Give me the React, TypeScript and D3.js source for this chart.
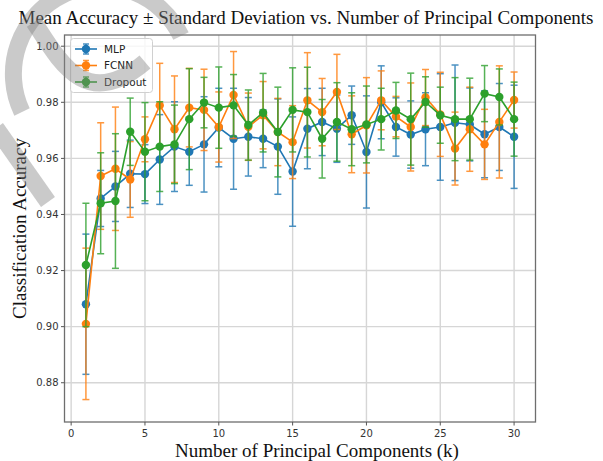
import React from "react";
import * as d3 from "d3";

const W = 603;
const H = 461;
const plot = { left: 64.5, right: 535.5, top: 35, bottom: 422 };

const components = [1, 2, 3, 4, 5, 6, 7, 8, 9, 10, 11, 12, 13, 14, 15, 16, 17, 18, 19, 20, 21, 22, 23, 24, 25, 26, 27, 28, 29, 30];

const mlpMean = [0.908, 0.9457, 0.95, 0.9545, 0.9544, 0.9596, 0.9642, 0.9624, 0.965, 0.971, 0.967, 0.9677, 0.967, 0.9642, 0.9553, 0.9706, 0.973, 0.9706, 0.9754, 0.9623, 0.98, 0.9712, 0.9685, 0.9704, 0.9712, 0.9727, 0.9721, 0.9686, 0.9712, 0.9677];
const mlpStd = [0.025, 0.01, 0.0125, 0.012, 0.0105, 0.016, 0.016, 0.012, 0.017, 0.014, 0.018, 0.014, 0.0103, 0.017, 0.0195, 0.0143, 0.012, 0.012, 0.0104, 0.02, 0.013, 0.0104, 0.012, 0.013, 0.019, 0.0206, 0.013, 0.0155, 0.0155, 0.0184];

const fcnnMean = [0.901, 0.9537, 0.9563, 0.9525, 0.9668, 0.9789, 0.9704, 0.9781, 0.9773, 0.9712, 0.9826, 0.9713, 0.9754, 0.9694, 0.9658, 0.9807, 0.9765, 0.9837, 0.9686, 0.9718, 0.9807, 0.9749, 0.9712, 0.9817, 0.9757, 0.9635, 0.9704, 0.965, 0.973, 0.9808];
const fcnnStd = [0.027, 0.019, 0.022, 0.0135, 0.008, 0.015, 0.019, 0.014, 0.0145, 0.0125, 0.0155, 0.012, 0.012, 0.012, 0.013, 0.017, 0.012, 0.0134, 0.0137, 0.017, 0.0105, 0.0072, 0.0157, 0.01, 0.015, 0.013, 0.015, 0.0125, 0.02, 0.01];

const dropMean = [0.922, 0.944, 0.9448, 0.9695, 0.9624, 0.9642, 0.965, 0.974, 0.9799, 0.9781, 0.9789, 0.9719, 0.9763, 0.9694, 0.9773, 0.9765, 0.967, 0.973, 0.9704, 0.9721, 0.974, 0.9771, 0.974, 0.9801, 0.9754, 0.974, 0.974, 0.9831, 0.9819, 0.974];
const dropStd = [0.022, 0.018, 0.024, 0.012, 0.0175, 0.016, 0.014, 0.018, 0.009, 0.0145, 0.011, 0.0125, 0.014, 0.016, 0.015, 0.016, 0.014, 0.014, 0.013, 0.0137, 0.011, 0.01, 0.0164, 0.009, 0.01, 0.0148, 0.0146, 0.01, 0.01, 0.0132];

const seriesNames = ["MLP", "FCNN", "Dropout"];
const seriesColors = ["#1f77b4", "#ff7f0e", "#2ca02c"];

const xTicks = [0, 5, 10, 15, 20, 25, 30];
const yTicks = [0.88, 0.9, 0.92, 0.94, 0.96, 0.98, 1.0];

const series = [
  { name: seriesNames[0], color: seriesColors[0], mean: mlpMean, std: mlpStd },
  { name: seriesNames[1], color: seriesColors[1], mean: fcnnMean, std: fcnnStd },
  { name: seriesNames[2], color: seriesColors[2], mean: dropMean, std: dropStd },
];

const serif = "'Liberation Serif', 'DejaVu Serif', serif";
const sans = "'DejaVu Sans', sans-serif";

export default function App() {
  const x = d3.scaleLinear().domain([-0.45, 31.45]).range([plot.left, plot.right]);
  const y = d3.scaleLinear().domain([0.866, 1.004]).range([plot.bottom, plot.top]);

  const line = d3
    .line<number>()
    .x((_, i) => x(components[i]))
    .y((d) => y(d));

  const cap = 3.5;

  return (
    <svg
      width={W}
      height={H}
      style={{ position: "absolute", left: 0, top: 0, background: "#fff" }}
    >
      <rect width={W} height={H} fill="#fff" />

      {/* grid */}
      <g stroke="#d6d6d6" strokeWidth={1.4}>
        {xTicks.map((t) => (
          <line key={"gx" + t} x1={x(t)} x2={x(t)} y1={plot.top} y2={plot.bottom} />
        ))}
        {yTicks.map((t) => (
          <line key={"gy" + t} x1={plot.left} x2={plot.right} y1={y(t)} y2={y(t)} />
        ))}
      </g>

      {/* series */}
      {series.map((s) => (
        <g key={s.name}>
          <g stroke={s.color} strokeWidth={1.5} opacity={0.8}>
            {s.mean.map((m, i) => {
              const cx = x(components[i]);
              const lo = y(m - s.std[i]);
              const hi = y(m + s.std[i]);
              return (
                <g key={i}>
                  <line x1={cx} x2={cx} y1={lo} y2={hi} />
                  <line x1={cx - cap} x2={cx + cap} y1={lo} y2={lo} />
                  <line x1={cx - cap} x2={cx + cap} y1={hi} y2={hi} />
                </g>
              );
            })}
          </g>
          <path d={line(s.mean) || ""} fill="none" stroke={s.color} strokeWidth={1.6} />
          {s.mean.map((m, i) => (
            <circle key={i} cx={x(components[i])} cy={y(m)} r={4.2} fill={s.color} />
          ))}
        </g>
      ))}

      {/* frame */}
      <rect
        x={plot.left}
        y={plot.top}
        width={plot.right - plot.left}
        height={plot.bottom - plot.top}
        fill="none"
        stroke="#6e6e6e"
        strokeWidth={1.3}
      />

      {/* axes */}
      <g fontFamily={sans} fontSize={10} fill="#333">
        {xTicks.map((t) => (
          <g key={"xt" + t}>
            <line x1={x(t)} x2={x(t)} y1={plot.bottom} y2={plot.bottom + 3.5} stroke="#555" />
            <text x={x(t)} y={plot.bottom + 15} textAnchor="middle">
              {t}
            </text>
          </g>
        ))}
        {yTicks.map((t) => (
          <g key={"yt" + t}>
            <line x1={plot.left - 3.5} x2={plot.left} y1={y(t)} y2={y(t)} stroke="#555" />
            <text x={plot.left - 6} y={y(t)} dy="0.35em" textAnchor="end">
              {d3.format(".2f")(t)}
            </text>
          </g>
        ))}
      </g>

      {/* titles */}
      <text x={306} y={24} textAnchor="middle" fontFamily={serif} fontSize={19} fill="#111">
        Mean Accuracy ± Standard Deviation vs. Number of Principal Components
      </text>
      <text x={317} y={457} textAnchor="middle" fontFamily={serif} fontSize={19} fill="#111">
        Number of Principal Components (k)
      </text>
      <text
        transform={`translate(26,${(plot.top + plot.bottom) / 2}) rotate(-90)`}
        textAnchor="middle"
        fontFamily={serif}
        fontSize={19}
        fill="#111"
      >
        Classification Accuracy
      </text>

      {/* legend */}
      <g>
        <rect x={70.5} y={38.5} width={82} height={54} rx={3} fill="#fff" fillOpacity={0.8} stroke="#d0d0d0" />
        {series.map((s, i) => {
          const ly = 49 + i * 16.5;
          return (
            <g key={"lg" + s.name}>
              <line x1={75} x2={97} y1={ly} y2={ly} stroke={s.color} strokeWidth={1.6} />
              <line x1={86} x2={86} y1={ly - 5} y2={ly + 5} stroke={s.color} strokeWidth={1.5} opacity={0.8} />
              <line x1={83} x2={89} y1={ly - 5} y2={ly - 5} stroke={s.color} strokeWidth={1.5} opacity={0.8} />
              <line x1={83} x2={89} y1={ly + 5} y2={ly + 5} stroke={s.color} strokeWidth={1.5} opacity={0.8} />
              <circle cx={86} cy={ly} r={4.2} fill={s.color} />
              <text x={104} y={ly} dy="0.35em" fontFamily={sans} fontSize={10.5} fill="#222">
                {s.name}
              </text>
            </g>
          );
        })}
      </g>

      {/* watermark */}
      <g fill="none" stroke="#808080" strokeOpacity={0.42} strokeWidth={17}>
        <path d="M 22 112 A 88 88 0 0 1 181 36" />
        <path d="M 34 22 C 60 62, 86 112, 145 62" />
        <path d="M -4 128 L 48 202" />
      </g>
    </svg>
  );
}
